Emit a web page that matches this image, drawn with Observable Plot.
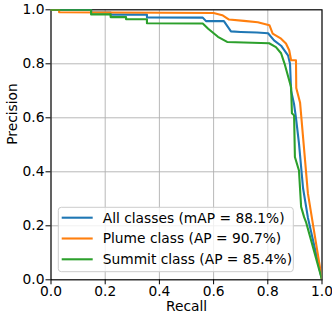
<!DOCTYPE html>
<html><head><meta charset="utf-8">
<script src="https://cdn.jsdelivr.net/npm/d3@7"></script>
<script src="https://cdn.jsdelivr.net/npm/@observablehq/plot@0.6"></script>
<style>
body{margin:0;background:#fff;}
#chart{width:332px;height:320px;}
</style></head><body><div id="chart"></div>
<script>
const seriesNames = ["All classes (mAP = 88.1%)", "Plume class (AP = 90.7%)", "Summit class (AP = 85.4%)"];
const seriesColors = ["#1f77b4", "#ff7f0e", "#2ca02c"];
const ticks = [0, 0.2, 0.4, 0.6, 0.8, 1.0];

const allRecall    = [0, 0.148, 0.148, 0.22, 0.22, 0.354, 0.354, 0.56, 0.572, 0.638, 0.664, 0.70, 0.76, 0.801, 0.823, 0.849, 0.875, 0.882, 0.886, 0.897, 0.904, 0.915, 0.930, 0.948, 1.0];
const allPrecision = [1, 1, 0.99, 0.99, 0.982, 0.982, 0.972, 0.971, 0.958, 0.958, 0.92, 0.918, 0.916, 0.913, 0.887, 0.867, 0.83, 0.80, 0.70, 0.65, 0.60, 0.505, 0.34, 0.23, 0];

const plumeRecall    = [0, 0.03, 0.03, 0.60, 0.632, 0.657, 0.712, 0.763, 0.806, 0.818, 0.849, 0.867, 0.879, 0.886, 0.904, 0.905, 0.919, 0.948, 1.0];
const plumePrecision = [1, 1, 0.991, 0.988, 0.98, 0.964, 0.959, 0.954, 0.943, 0.912, 0.893, 0.875, 0.85, 0.813, 0.813, 0.71, 0.657, 0.32, 0];

const summitRecall    = [0, 0.148, 0.148, 0.22, 0.22, 0.277, 0.277, 0.354, 0.354, 0.56, 0.58, 0.616, 0.65, 0.805, 0.83, 0.849, 0.862, 0.886, 0.889, 0.897, 0.900, 0.915, 0.923, 0.934, 0.941, 1.0];
const summitPrecision = [1, 1, 0.983, 0.983, 0.973, 0.973, 0.965, 0.965, 0.95, 0.949, 0.93, 0.9, 0.881, 0.876, 0.862, 0.839, 0.80, 0.713, 0.617, 0.609, 0.455, 0.405, 0.27, 0.232, 0.214, 0];

const recalls = [allRecall, plumeRecall, summitRecall];
const precisions = [allPrecision, plumePrecision, summitPrecision];
const data = seriesNames.flatMap((name, i) =>
  recalls[i].map((r, j) => ({series: name, recall: r, precision: precisions[i][j]})));

const FS = 13.8;
const plot = Plot.plot({
  width: 332, height: 320,
  marginLeft: 50.5, marginRight: 10.5, marginTop: 9.3, marginBottom: 40.7,
  style: {fontFamily: "'DejaVu Sans'", fontSize: FS + "px", background: "white", color: "black"},
  x: {domain: [0, 1]},
  y: {domain: [0, 1]},
  color: {domain: seriesNames, range: seriesColors},
  marks: [
    Plot.gridX(ticks, {stroke: "#b0b0b0", strokeOpacity: 1, strokeWidth: 0.9}),
    Plot.gridY(ticks, {stroke: "#b0b0b0", strokeOpacity: 1, strokeWidth: 0.9}),
    Plot.frame({stroke: "black", strokeWidth: 1.1}),
    Plot.axisX(ticks, {tickFormat: d3.format(".1f"), tickSize: 5, tickPadding: 1.7, label: null, fontSize: FS}),
    Plot.axisY(ticks, {tickFormat: d3.format(".1f"), tickSize: 5, tickPadding: 1.5, label: null, fontSize: FS}),
    Plot.line(data, {x: "recall", y: "precision", z: "series", stroke: "series", strokeWidth: 2.1, clip: true}),
    Plot.text(["Recall"], {frameAnchor: "bottom", dy: 30.7, fontSize: FS, fill: "black"}),
    Plot.text(["Precision"], {frameAnchor: "left", rotate: -90, dx: -38.5, fontSize: FS, fill: "black"})
  ]
});

// Legend inside the axes, lower left (matplotlib style)
const svg = d3.select(plot);
const lg = svg.append("g").attr("text-anchor", "start");
lg.append("rect").attr("x", 58.3).attr("y", 207.3).attr("width", 235).attr("height", 64.4)
  .attr("rx", 3).style("fill", "white").style("fill-opacity", 0.8).style("stroke", "#cccccc").style("stroke-width", "1px");
seriesNames.forEach((name, i) => {
  const cy = 217.7 + i * 20.8;
  lg.append("path").attr("d", `M61.7,${cy}H92.7`)
    .style("stroke", seriesColors[i]).style("stroke-width", "2.1px").style("fill", "none");
  lg.append("text").attr("x", 102.7).attr("y", cy).attr("dy", "0.36em")
    .attr("text-anchor", "start").style("font-size", FS + "px").style("fill", "black").text(name);
});

document.getElementById("chart").appendChild(plot);
</script></body></html>
